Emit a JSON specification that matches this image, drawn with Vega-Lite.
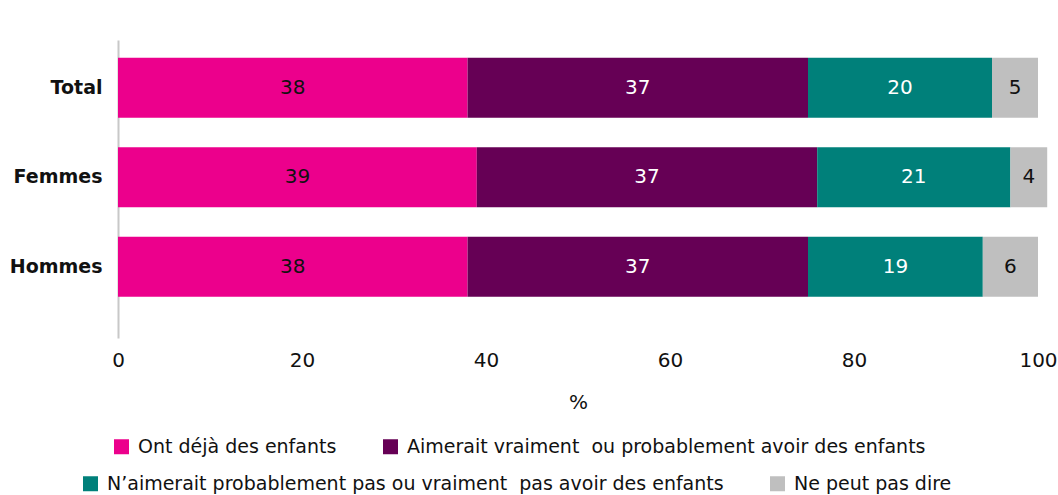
{
  "$schema": "https://vega.github.io/schema/vega-lite/v6.json",
  "width": 920,
  "height": 298,
  "autosize": {"type": "none"},
  "padding": {"left": 118, "top": 40, "right": 20, "bottom": 157},
  "background": "white",
  "config": {
    "view": {"stroke": null},
    "font": "DejaVu Sans",
    "axis": {"grid": false, "ticks": false}
  },
  "data": {
    "values": [
      {"group": "Total", "category": "Ont déjà des enfants", "order": 1, "value": 38},
      {"group": "Total", "category": "Aimerait vraiment \u00a0ou probablement avoir des enfants", "order": 2, "value": 37},
      {"group": "Total", "category": "N’aimerait probablement pas ou vraiment \u00a0pas avoir des enfants", "order": 3, "value": 20},
      {"group": "Total", "category": "Ne peut pas dire", "order": 4, "value": 5},
      {"group": "Femmes", "category": "Ont déjà des enfants", "order": 1, "value": 39},
      {"group": "Femmes", "category": "Aimerait vraiment \u00a0ou probablement avoir des enfants", "order": 2, "value": 37},
      {"group": "Femmes", "category": "N’aimerait probablement pas ou vraiment \u00a0pas avoir des enfants", "order": 3, "value": 21},
      {"group": "Femmes", "category": "Ne peut pas dire", "order": 4, "value": 4},
      {"group": "Hommes", "category": "Ont déjà des enfants", "order": 1, "value": 38},
      {"group": "Hommes", "category": "Aimerait vraiment \u00a0ou probablement avoir des enfants", "order": 2, "value": 37},
      {"group": "Hommes", "category": "N’aimerait probablement pas ou vraiment \u00a0pas avoir des enfants", "order": 3, "value": 19},
      {"group": "Hommes", "category": "Ne peut pas dire", "order": 4, "value": 6}
    ]
  },
  "transform": [
    {"stack": "value", "groupby": ["group"], "sort": [{"field": "order", "order": "ascending"}], "as": ["x0", "x1"]}
  ],
  "encoding": {
    "y": {
      "field": "group",
      "type": "nominal",
      "sort": ["Total", "Femmes", "Hommes"],
      "title": null,
      "scale": {"paddingInner": 0.33, "paddingOuter": 0.33, "align": 0.3},
      "axis": {
        "domain": true,
        "domainColor": "#c8c8c8",
        "domainWidth": 2,
        "labelFontSize": 19,
        "labelFontWeight": "bold",
        "labelColor": "#111111",
        "labelPadding": 16
      }
    }
  },
  "layer": [
    {
      "transform": [{"filter": "datum.order <= 2"}],
      "mark": {"type": "bar"},
      "encoding": {
        "x": {
          "field": "x0",
          "type": "quantitative",
          "title": "%",
          "scale": {"domain": [0, 100], "nice": false},
          "axis": {
            "domain": false,
            "values": [0, 20, 40, 60, 80, 100],
            "labelFontSize": 20,
            "labelColor": "#111111",
            "labelPadding": 12,
            "labelFlush": false,
            "titleFontSize": 20,
            "titleFontWeight": "normal",
            "titleColor": "#111111",
            "titlePadding": 22
          }
        },
        "x2": {"field": "x1"},
        "color": {
          "field": "category",
          "type": "nominal",
          "scale": {
            "domain": ["Ont déjà des enfants", "Aimerait vraiment \u00a0ou probablement avoir des enfants"],
            "range": ["#EC008C", "#660055"]
          },
          "legend": {
            "orient": "none",
            "legendX": -6,
            "legendY": 397,
            "direction": "horizontal",
            "title": null,
            "symbolType": "square",
            "symbolSize": 225,
            "symbolStrokeWidth": 0,
            "labelFontSize": 19,
            "labelColor": "#111111",
            "labelOffset": 7,
            "columnPadding": 44,
            "labelLimit": 1000
          }
        }
      }
    },
    {
      "transform": [{"filter": "datum.order > 2"}],
      "mark": {"type": "bar"},
      "encoding": {
        "x": {"field": "x0", "type": "quantitative", "title": "%", "scale": {"domain": [0, 100], "nice": false}},
        "x2": {"field": "x1"},
        "fill": {
          "field": "category",
          "type": "nominal",
          "scale": {
            "domain": ["N’aimerait probablement pas ou vraiment \u00a0pas avoir des enfants", "Ne peut pas dire"],
            "range": ["#00807A", "#BFBFBF"]
          },
          "legend": {
            "orient": "none",
            "legendX": -37,
            "legendY": 434,
            "direction": "horizontal",
            "title": null,
            "symbolType": "square",
            "symbolSize": 225,
            "symbolStrokeWidth": 0,
            "labelFontSize": 19,
            "labelColor": "#111111",
            "labelOffset": 7,
            "columnPadding": 44,
            "labelLimit": 1000
          }
        }
      }
    },
    {
      "mark": {"type": "text", "fontSize": 20},
      "encoding": {
        "x": {"field": "value", "type": "quantitative", "stack": "zero", "bandPosition": 0.5, "title": "%", "scale": {"domain": [0, 100], "nice": false}},
        "order": {"field": "order", "type": "quantitative"},
        "text": {"field": "value", "type": "quantitative"},
        "color": {
          "condition": {"test": "datum.order == 2 || datum.order == 3", "value": "#ffffff"},
          "value": "#111111"
        }
      }
    }
  ]
}
